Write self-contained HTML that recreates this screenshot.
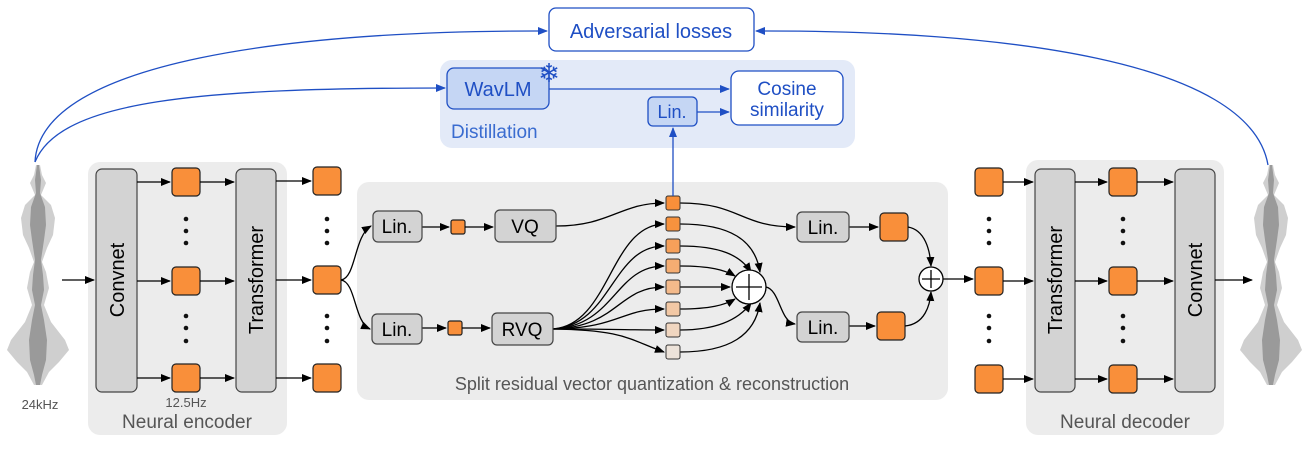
<!DOCTYPE html>
<html><head><meta charset="utf-8"><style>
html,body{margin:0;padding:0;background:#fff;}
svg{display:block;font-family:"Liberation Sans",Arial,sans-serif;}
</style></head><body>
<svg width="1313" height="457" viewBox="0 0 1313 457" xmlns="http://www.w3.org/2000/svg">
<defs>
<marker id="ak" viewBox="0 0 10 10" refX="9" refY="5" markerWidth="10" markerHeight="10" markerUnits="userSpaceOnUse" orient="auto"><path d="M0,1 L10,5 L0,9 z" fill="#000"/></marker>
<marker id="ab" viewBox="0 0 10 10" refX="9" refY="5" markerWidth="10" markerHeight="10" markerUnits="userSpaceOnUse" orient="auto"><path d="M0,1 L10,5 L0,9 z" fill="#1f4fc4"/></marker>
<g id="wave">
<polygon fill="#bbb" opacity=".7" points="2,-110 4,-100 8,-92 3,-80 13,-70 17,-57 15,-40 9,-27 4,-13 8,-3 11,13 6,30 13,47 27,65 31,75 21,87 11,97 4,110 -4,110 -11,97 -21,87 -31,75 -27,65 -13,47 -6,30 -11,13 -8,-3 -4,-13 -9,-27 -15,-40 -17,-57 -13,-70 -3,-80 -8,-92 -4,-100 -2,-110"/>
<polygon fill="#888" opacity=".75" points="1,-110 3,-95 2,-82 7,-68 8,-50 6,-35 3,-15 5,0 6,15 3,30 6,45 9,65 8,85 4,100 2,110 -2,110 -4,100 -8,85 -9,65 -6,45 -3,30 -6,15 -5,0 -3,-15 -6,-35 -8,-50 -7,-68 -2,-82 -3,-95 -1,-110"/>
</g>
</defs>

<rect x="88" y="162" width="199" height="273" rx="12" fill="#ececec"/>
<rect x="357" y="182" width="591" height="218" rx="12" fill="#ececec"/>
<rect x="1026" y="160" width="198" height="275" rx="12" fill="#ececec"/>
<rect x="440" y="60" width="415" height="88" rx="12" fill="#e3eaf8"/>

<use href="#wave" x="38" y="275"/>
<use href="#wave" x="1271" y="275"/>
<text x="40" y="409" font-size="13" fill="#555" text-anchor="middle">24kHz</text>

<g stroke="#444" stroke-width="1.2">
<rect x="96" y="169" width="41" height="223" rx="6" fill="#d3d3d3"/>
<rect x="236" y="169" width="40" height="223" rx="6" fill="#d3d3d3"/>
<rect x="1035" y="169" width="40" height="223" rx="6" fill="#d3d3d3"/>
<rect x="1175" y="169" width="40" height="223" rx="6" fill="#d3d3d3"/>
</g>
<text transform="translate(124,280) rotate(-90)" font-size="20" text-anchor="middle">Convnet</text>
<text transform="translate(263,280) rotate(-90)" font-size="20" text-anchor="middle">Transformer</text>
<text transform="translate(1062,280) rotate(-90)" font-size="20" text-anchor="middle">Transformer</text>
<text transform="translate(1202,280) rotate(-90)" font-size="20" text-anchor="middle">Convnet</text>

<g fill="#f98f3a" stroke="#222" stroke-width="1.2">
<rect x="172" y="168" width="28" height="28" rx="4"/><rect x="172" y="267" width="28" height="28" rx="4"/><rect x="172" y="364" width="28" height="28" rx="4"/>
<rect x="313" y="167" width="28" height="28" rx="4"/><rect x="313" y="266" width="28" height="28" rx="4"/><rect x="313" y="364" width="28" height="28" rx="4"/>
<rect x="975" y="168" width="28" height="28" rx="4"/><rect x="975" y="267" width="28" height="28" rx="4"/><rect x="975" y="365" width="28" height="28" rx="4"/>
<rect x="1109" y="168" width="28" height="28" rx="4"/><rect x="1109" y="267" width="28" height="28" rx="4"/><rect x="1109" y="365" width="28" height="28" rx="4"/>
<rect x="880" y="213" width="28" height="28" rx="4"/><rect x="877" y="312" width="28" height="28" rx="4"/>
<rect x="451" y="220" width="14" height="14" rx="2"/><rect x="448" y="321" width="14" height="14" rx="2"/>
</g>
<g fill="#111">
<circle cx="186" cy="219" r="2.3"/><circle cx="186" cy="231" r="2.3"/><circle cx="186" cy="243" r="2.3"/>
<circle cx="186" cy="316" r="2.3"/><circle cx="186" cy="328" r="2.3"/><circle cx="186" cy="341" r="2.3"/>
<circle cx="327" cy="219" r="2.3"/><circle cx="327" cy="231" r="2.3"/><circle cx="327" cy="243" r="2.3"/>
<circle cx="327" cy="316" r="2.3"/><circle cx="327" cy="328" r="2.3"/><circle cx="327" cy="341" r="2.3"/>
<circle cx="989" cy="219" r="2.3"/><circle cx="989" cy="231" r="2.3"/><circle cx="989" cy="243" r="2.3"/>
<circle cx="989" cy="316" r="2.3"/><circle cx="989" cy="328" r="2.3"/><circle cx="989" cy="341" r="2.3"/>
<circle cx="1123" cy="219" r="2.3"/><circle cx="1123" cy="231" r="2.3"/><circle cx="1123" cy="243" r="2.3"/>
<circle cx="1123" cy="316" r="2.3"/><circle cx="1123" cy="328" r="2.3"/><circle cx="1123" cy="341" r="2.3"/>
</g>
<text x="186" y="407" font-size="13" fill="#555" text-anchor="middle">12.5Hz</text>
<text x="187" y="428" font-size="19" fill="#555" text-anchor="middle">Neural encoder</text>
<text x="1125" y="428" font-size="19" fill="#555" text-anchor="middle">Neural decoder</text>
<text x="652" y="390" font-size="18" fill="#555" text-anchor="middle">Split residual vector quantization &amp; reconstruction</text>

<g stroke="#000" stroke-width="1.3" fill="none" marker-end="url(#ak)">
<path d="M62,280 H94"/>
<path d="M137,182 H170"/><path d="M137,281 H170"/><path d="M137,378 H170"/>
<path d="M200,182 H234"/><path d="M200,281 H234"/><path d="M200,378 H234"/>
<path d="M276,181 H311"/><path d="M276,280 H311"/><path d="M276,378 H311"/>
<path d="M341,280 C356,278 354,236 371,226"/>
<path d="M341,280 C356,282 354,322 370,329"/>
<path d="M422,227 H449"/><path d="M465,227 H493"/>
<path d="M422,328 H446"/><path d="M462,328 H490"/>
<path d="M556,226 C610,226 620,203 664,203"/>
<path d="M680,203 C740,203 740,227 795,227"/>
<path d="M849,227 H878"/>
<path d="M849,326 H875"/>
<path d="M908,227 C925,230 930,250 931,266"/>
<path d="M905,326 C925,324 930,305 931,292"/>
<path d="M943,279 H973"/>
<path d="M1003,182 H1033"/><path d="M1003,281 H1033"/><path d="M1003,379 H1033"/>
<path d="M1075,182 H1107"/><path d="M1075,281 H1107"/><path d="M1075,379 H1107"/>
<path d="M1137,182 H1173"/><path d="M1137,281 H1173"/><path d="M1137,379 H1173"/>
<path d="M1215,280 H1252"/>
<path d="M766,287 C780,290 780,322 795,324"/>
<path d="M553,329 C610,325 610,225 664,224"/>
<path d="M553,329 C612,325 612,246 664,246"/>
<path d="M553,329 C615,326 615,266 664,266"/>
<path d="M553,329 C618,327 618,287 664,287"/>
<path d="M553,329 C620,328 620,309 664,309"/>
<path d="M553,329 C620,329 625,330 664,330"/>
<path d="M553,329 C625,330 630,340 664,352"/>
<path d="M680,224 C730,224 755,240 760,272"/>
<path d="M680,246 C720,246 740,255 751,272"/>
<path d="M680,266 C710,266 725,270 735,276"/>
<path d="M680,287 H730"/>
<path d="M680,309 C710,309 725,305 735,299"/>
<path d="M680,330 C720,330 740,318 751,303"/>
<path d="M680,352 C730,352 755,335 760,303"/>
</g>

<g stroke="#333" stroke-width="1">
<rect x="666" y="196" width="14" height="14" rx="2" fill="#f98f3a"/>
<rect x="666" y="217" width="14" height="14" rx="2" fill="#f7923e"/>
<rect x="666" y="239" width="14" height="14" rx="2" fill="#f6a05a"/>
<rect x="666" y="259" width="14" height="14" rx="2" fill="#f5ad72"/>
<rect x="666" y="280" width="14" height="14" rx="2" fill="#f4ba8b"/>
<rect x="666" y="302" width="14" height="14" rx="2" fill="#f2c8a5"/>
<rect x="666" y="323" width="14" height="14" rx="2" fill="#f0d6c0"/>
<rect x="666" y="345" width="14" height="14" rx="2" fill="#ede3da"/>
</g>
<g stroke="#000" stroke-width="1.3" fill="#fff">
<circle cx="749" cy="287" r="17"/><path d="M736,287 H762 M749,274 V300"/>
<circle cx="931" cy="279" r="12"/><path d="M922,279 H940 M931,270 V288"/>
</g>

<g stroke="#444" stroke-width="1.2" fill="#d3d3d3">
<rect x="373" y="211" width="49" height="31" rx="5"/>
<rect x="495" y="210" width="61" height="32" rx="5"/>
<rect x="372" y="314" width="50" height="30" rx="5"/>
<rect x="492" y="313" width="61" height="32" rx="5"/>
<rect x="797" y="212" width="52" height="30" rx="5"/>
<rect x="797" y="312" width="52" height="30" rx="5"/>
</g>
<g font-size="19" text-anchor="middle">
<text x="397" y="233">Lin.</text><text x="525" y="233">VQ</text>
<text x="397" y="336">Lin.</text><text x="522" y="336">RVQ</text>
<text x="823" y="234">Lin.</text><text x="823" y="334">Lin.</text>
</g>

<g stroke="#1f4fc4" stroke-width="1.3" fill="none" marker-end="url(#ab)">
<path d="M35,162 C40,60 300,30 547,31"/>
<path d="M35,162 C60,100 200,88 445,88"/>
<path d="M1268,165 C1250,60 1000,30 756,31"/>
<path d="M549,89 H729"/>
<path d="M697,112 H729"/>
<path d="M673,196 V128"/>
</g>
<rect x="549" y="8" width="205" height="43" rx="7" fill="#fff" stroke="#1f4fc4" stroke-width="1.3"/>
<text x="651" y="38" font-size="20" fill="#1f4fc4" text-anchor="middle">Adversarial losses</text>
<rect x="447" y="68" width="102" height="41" rx="7" fill="#c5d6f4" stroke="#1f4fc4" stroke-width="1.3"/>
<text x="498" y="96" font-size="20" fill="#1f4fc4" text-anchor="middle">WavLM</text>
<text x="549" y="82" font-size="26" fill="#1f4fc4" text-anchor="middle">❄</text>
<rect x="648" y="97" width="49" height="29" rx="5" fill="#c5d6f4" stroke="#1f4fc4" stroke-width="1.3"/>
<text x="672" y="118" font-size="18" fill="#1f4fc4" text-anchor="middle">Lin.</text>
<rect x="731" y="71" width="112" height="54" rx="8" fill="#fff" stroke="#1f4fc4" stroke-width="1.3"/>
<text x="787" y="95" font-size="19" fill="#1f4fc4" text-anchor="middle">Cosine</text>
<text x="787" y="116" font-size="19" fill="#1f4fc4" text-anchor="middle">similarity</text>
<text x="451" y="138" font-size="19" fill="#3a6cd0">Distillation</text>
</svg>
</body></html>
